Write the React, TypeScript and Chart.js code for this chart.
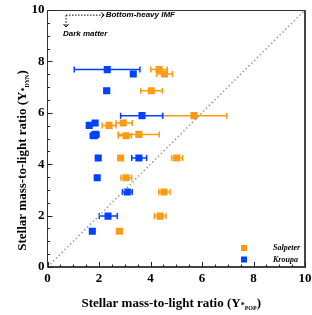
import React, { useEffect, useRef } from 'react';
import { Chart, registerables } from 'chart.js';

Chart.register(...registerables);

// Shared dynamical M/L (y) for each galaxy
const rowY = [7.68, 7.51, 6.86, 5.89, 5.6, 5.51, 5.16, 5.11, 4.24, 4.24, 3.47, 2.92, 1.98, 1.39];
// Salpeter IMF stellar-population M/L
const salpeterX = [4.33, 4.54, 4.03, 5.69, 2.94, 2.39, 3.55, 3.05, 2.84, 5.02, 3.05, 4.52, 4.37, 2.79];
const salpeterLo = [4.01, 4.24, 3.62, 4.49, 2.66, 2.12, 2.75, 2.75, 2.84, 4.82, 2.85, 4.32, 4.15, 2.79];
const salpeterHi = [4.65, 4.85, 4.46, 6.96, 3.29, 2.66, 4.34, 3.26, 2.84, 5.25, 3.27, 4.76, 4.6, 2.79];
// Kroupa IMF stellar-population M/L
const kroupaX = [2.32, 3.33, 2.3, 3.67, 1.85, 1.62, 1.86, 1.8, 1.97, 3.55, 1.93, 3.1, 2.35, 1.74];
const kroupaLo = [1.04, 3.33, 2.2, 2.84, 1.85, 1.62, 1.72, 1.66, 1.97, 3.27, 1.93, 2.91, 2.01, 1.74];
const kroupaHi = [3.59, 3.33, 2.4, 4.47, 1.85, 1.62, 2.0, 1.94, 1.97, 3.85, 1.93, 3.29, 2.71, 1.74];

const seriesLabels = ['Salpeter', 'Kroupa'];
const axisRange = [0, 10];
const tickValues = [0, 2, 4, 6, 8, 10];

const ORANGE = '#FF9A14';
const BLUE = '#0040FF';
const SERIF = '"Liberation Serif", "Times New Roman", serif';
const SANS = '"Liberation Sans", Arial, sans-serif';

const errorSets = [
  { x: salpeterX, lo: salpeterLo, hi: salpeterHi, color: ORANGE },
  { x: kroupaX, lo: kroupaLo, hi: kroupaHi, color: BLUE },
];

function drawTitle(ctx: CanvasRenderingContext2D, parts: { t: string; size: number; dy: number }[]) {
  let total = 0;
  for (const p of parts) {
    ctx.font = `bold ${p.size}px ${SERIF}`;
    total += ctx.measureText(p.t).width;
  }
  let x = -total / 2;
  ctx.textBaseline = 'alphabetic';
  ctx.textAlign = 'left';
  for (const p of parts) {
    ctx.font = `bold ${p.size}px ${SERIF}`;
    ctx.fillText(p.t, x, p.dy);
    x += ctx.measureText(p.t).width;
  }
}

const decor = {
  id: 'decor',
  beforeDatasetsDraw(chart: any) {
    const { ctx, scales } = chart;
    const xs = scales.x;
    const ys = scales.y;
    ctx.save();
    ctx.lineWidth = 1.5;
    for (const s of errorSets) {
      ctx.strokeStyle = s.color;
      for (let i = 0; i < rowY.length; i++) {
        if (s.hi[i] - s.lo[i] <= 0) continue;
        const py = ys.getPixelForValue(rowY[i]);
        const x0 = xs.getPixelForValue(s.lo[i]);
        const x1 = xs.getPixelForValue(s.hi[i]);
        ctx.beginPath();
        ctx.moveTo(x0, py);
        ctx.lineTo(x1, py);
        ctx.moveTo(x0, py - 3);
        ctx.lineTo(x0, py + 3);
        ctx.moveTo(x1, py - 3);
        ctx.lineTo(x1, py + 3);
        ctx.stroke();
      }
    }
    ctx.restore();
  },
  afterDraw(chart: any) {
    const { ctx, chartArea: ca, scales } = chart;
    const xs = scales.x;
    const ys = scales.y;
    ctx.save();
    // frame
    ctx.strokeStyle = '#333';
    ctx.lineWidth = 1;
    ctx.beginPath();
    ctx.moveTo(ca.left, ca.bottom);
    ctx.lineTo(ca.left, ca.top + 0.5);
    ctx.lineTo(ca.right, ca.top + 0.5);
    ctx.stroke();
    ctx.strokeStyle = '#444';
    ctx.lineWidth = 2;
    ctx.beginPath();
    ctx.moveTo(ca.right, ca.top);
    ctx.lineTo(ca.right, ca.bottom);
    ctx.lineTo(ca.left, ca.bottom);
    ctx.stroke();
    // inward ticks
    ctx.strokeStyle = '#222';
    ctx.lineWidth = 1;
    ctx.beginPath();
    for (let v = axisRange[0]; v <= axisRange[1] + 1e-9; v += 0.5) {
      const major = Math.abs(v / 2 - Math.round(v / 2)) < 1e-9;
      const len = major ? 5 : 2.5;
      const px = Math.round(xs.getPixelForValue(v)) + 0.5;
      ctx.moveTo(px, ca.bottom);
      ctx.lineTo(px, ca.bottom - len);
      const py = Math.round(ys.getPixelForValue(v)) + 0.5;
      ctx.moveTo(ca.left, py);
      ctx.lineTo(ca.left + len, py);
    }
    ctx.stroke();

    // annotation (data coordinates)
    const ax0 = xs.getPixelForValue(0.72);
    const ay0 = ys.getPixelForValue(9.8);
    const ax1 = xs.getPixelForValue(2.2);
    const ay1 = ys.getPixelForValue(9.34);
    ctx.strokeStyle = '#000';
    ctx.lineWidth = 1;
    ctx.setLineDash([1.5, 1.5]);
    ctx.beginPath();
    ctx.moveTo(ax0, ay0);
    ctx.lineTo(ax1, ay0);
    ctx.moveTo(ax0, ay0);
    ctx.lineTo(ax0, ay1);
    ctx.stroke();
    ctx.setLineDash([]);
    ctx.beginPath();
    ctx.moveTo(ax1 - 3, ay0 - 2.5);
    ctx.lineTo(ax1, ay0);
    ctx.lineTo(ax1 - 3, ay0 + 2.5);
    ctx.moveTo(ax0 - 2.5, ay1 - 3);
    ctx.lineTo(ax0, ay1);
    ctx.lineTo(ax0 + 2.5, ay1 - 3);
    ctx.stroke();
    ctx.fillStyle = '#000';
    ctx.font = `italic bold 8px ${SANS}`;
    ctx.textBaseline = 'middle';
    ctx.textAlign = 'left';
    ctx.fillText('Bottom-heavy IMF', ax1 + 1.5, ay0);
    ctx.fillText('Dark matter', xs.getPixelForValue(0.6), ys.getPixelForValue(9.08));

    // legend
    const colors = [ORANGE, BLUE];
    const boxX = ca.right - 61;
    const textX = ca.right - 32;
    for (let i = 0; i < seriesLabels.length; i++) {
      const cy = ca.bottom - 19 + i * 11.5;
      ctx.fillStyle = colors[i];
      ctx.fillRect(boxX - 3, cy - 3, 6, 6);
      ctx.fillStyle = '#000';
      ctx.font = `italic bold 8px ${SERIF}`;
      ctx.textBaseline = 'middle';
      ctx.fillText(seriesLabels[i], textX, cy);
    }

    // axis titles
    ctx.fillStyle = '#000';
    ctx.save();
    ctx.translate((ca.left + ca.right) / 2 - 5, ca.bottom + 40);
    drawTitle(ctx, [
      { t: 'Stellar mass-to-light ratio (\u03A5', size: 13, dy: 0 },
      { t: '*', size: 8, dy: 1 },
      { t: 'POP', size: 6, dy: 3 },
      { t: ')', size: 13, dy: 0 },
    ]);
    ctx.restore();
    ctx.save();
    ctx.translate(26, (ca.top + ca.bottom) / 2 + 22);
    ctx.rotate(-Math.PI / 2);
    drawTitle(ctx, [
      { t: 'Stellar mass-to-light ratio (\u03A5', size: 13, dy: 0 },
      { t: '*', size: 8, dy: 1 },
      { t: 'DYN', size: 6, dy: 3 },
      { t: ')', size: 13, dy: 0 },
    ]);
    ctx.restore();
    ctx.restore();
  },
};

export default function App() {
  const ref = useRef<HTMLCanvasElement | null>(null);
  useEffect(() => {
    if (!ref.current) return;
    const tickFont = { family: SERIF, weight: 'bold' as const, size: 13 };
    const chart = new Chart(ref.current, {
      type: 'scatter',
      data: {
        datasets: [
          {
            type: 'line' as any,
            label: 'one-to-one',
            data: [
              { x: axisRange[0], y: axisRange[0] },
              { x: axisRange[1], y: axisRange[1] },
            ],
            borderColor: '#999',
            borderWidth: 1.5,
            borderDash: [1.5, 2.5],
            pointRadius: 0,
            fill: false,
          } as any,
          {
            label: seriesLabels[0],
            data: salpeterX.map((x, i) => ({ x, y: rowY[i] })),
            backgroundColor: ORANGE,
            borderColor: ORANGE,
            borderWidth: 0,
            pointStyle: 'rect',
            pointRadius: 5,
          },
          {
            label: seriesLabels[1],
            data: kroupaX.map((x, i) => ({ x, y: rowY[i] })),
            backgroundColor: BLUE,
            borderColor: BLUE,
            borderWidth: 0,
            pointStyle: 'rect',
            pointRadius: 5,
          },
        ],
      },
      options: {
        responsive: false,
        animation: false,
        layout: { padding: { top: 10, right: 7, left: 0, bottom: 0 } },
        plugins: { legend: { display: false }, tooltip: { enabled: false } },
        scales: {
          x: {
            type: 'linear',
            min: axisRange[0],
            max: axisRange[1],
            afterBuildTicks: (s: any) => {
              s.ticks = tickValues.map((v) => ({ value: v }));
            },
            ticks: { font: tickFont, color: '#000', padding: 4, maxRotation: 0 },
            grid: { display: false, drawTicks: false },
            border: { display: false },
            afterFit: (s: any) => {
              s.height = 48;
              s.paddingLeft = 0;
              s.paddingRight = 0;
            },
          },
          y: {
            type: 'linear',
            min: axisRange[0],
            max: axisRange[1],
            afterBuildTicks: (s: any) => {
              s.ticks = tickValues.map((v) => ({ value: v }));
            },
            ticks: { font: tickFont, color: '#000', padding: 3 },
            grid: { display: false, drawTicks: false },
            border: { display: false },
            afterFit: (s: any) => {
              s.width = 47.5;
              s.paddingTop = 0;
              s.paddingBottom = 0;
            },
          },
        },
      },
      plugins: [decor],
    });
    return () => chart.destroy();
  }, []);
  return (
    <div style={{ position: 'absolute', left: 0, top: 0, width: 312, height: 315, background: '#fff' }}>
      <canvas ref={ref} width={312} height={315} style={{ width: 312, height: 315 }} />
    </div>
  );
}
